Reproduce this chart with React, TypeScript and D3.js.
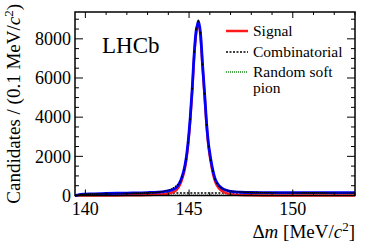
import { useRef, useEffect } from 'react'
import * as d3 from 'd3'

// binned data: 0.1 MeV bins, centres from 139.55
const binStart = 139.55
const candidates = [
  5, 30, 45, 55, 60, 70, 66, 75, 72, 80,
  78, 84, 88, 85, 92, 95, 93, 98, 100, 97,
  103, 105, 101, 108, 110, 112, 109, 115, 118, 116,
  121, 124, 122, 128, 131, 135, 140, 143, 150, 158,
  170, 185, 200, 225, 250, 290, 330, 390, 470, 560,
  700, 950, 1300, 1850, 2700, 3900, 5450, 7350, 8500, 8900,
  8300, 6700, 5200, 3600, 2500, 1800, 1250, 830, 620, 480,
  400, 330, 290, 260, 235, 220, 205, 195, 188, 180,
  175, 170, 166, 160, 158, 155, 150, 152, 148, 145,
  147, 143, 141, 144, 140, 138, 141, 137, 139, 135,
  138, 136, 134, 137, 133, 135, 132, 136, 134, 131,
  135, 133, 130, 134, 132, 129, 133, 131, 130, 132,
  128, 131, 129, 130, 127, 131, 128, 126, 130, 127,
  129, 126, 128, 125, 127,
]

// fit components
const sigX = [139.5, 140, 141, 142, 143, 143.5, 143.8, 144, 144.2, 144.4, 144.55, 144.65, 144.75, 144.85, 144.95, 145.05, 145.15, 145.25, 145.35, 145.45, 145.55, 145.65, 145.75, 145.85, 145.95, 146.05, 146.15, 146.25, 146.35, 146.5, 146.7, 147, 147.5, 148, 149, 150, 153]
const sigY = [0, 1, 4, 10, 25, 45, 70, 100, 160, 280, 520, 790, 1150, 1700, 2550, 3750, 5300, 7150, 8350, 8760, 8150, 6550, 5050, 3480, 2380, 1680, 1130, 730, 500, 300, 160, 70, 25, 10, 3, 1, 0]
const combX = [139.5, 139.57, 139.6, 139.7, 139.9, 140.2, 141, 142, 143, 144, 146, 148, 150, 153]
const combY = [0, 0, 15, 35, 55, 70, 90, 105, 115, 122, 128, 131, 133, 135]
const rspX = [139.5, 139.6, 140, 142, 144, 145.4, 147, 150, 153]
const rspY = [0, 4, 8, 10, 12, 14, 12, 10, 9]

const xTicks = [140, 145, 150]
const yTicks = [0, 2000, 4000, 6000, 8000]
const legendItems = ['Signal', 'Combinatorial', 'Random soft']

export default function App() {
  const svgRef = useRef<SVGSVGElement>(null)

  useEffect(() => {
    if (!svgRef.current) return
    const svg = d3.select(svgRef.current)
    svg.selectAll('*').remove()

    const left = 75, right = 355, top = 12, bottom = 195.5
    const font = 'Liberation Serif, Times New Roman, serif'

    const x = d3.scaleLinear().domain([139.5, 153]).range([left, right])
    const y = d3.scaleLinear().domain([0, 9370]).range([bottom, top])

    const g = svg.append('g')
    const clip = svg.append('clipPath').attr('id', 'plotclip')
    clip.append('rect').attr('x', left).attr('y', top).attr('width', right - left).attr('height', bottom - top + 2)

    // linear lookup used to sum the fit components
    const interp = (xs: number[], ys: number[], v: number) => {
      if (v <= xs[0]) return ys[0]
      for (let i = 1; i < xs.length; i++) {
        if (v <= xs[i]) {
          const t = (v - xs[i - 1]) / (xs[i] - xs[i - 1])
          return ys[i - 1] + t * (ys[i] - ys[i - 1])
        }
      }
      return ys[ys.length - 1]
    }
    const line = d3.line<[number, number]>()
      .x(d => x(d[0]))
      .y(d => y(d[1]))
      .curve(d3.curveMonotoneX)

    const sigPts = sigX.map((v, i) => [v, sigY[i]] as [number, number])
    const combPts = combX.map((v, i) => [v, combY[i]] as [number, number])
    const rspPts = rspX.map((v, i) => [v, rspY[i]] as [number, number])
    // total = sum of components on union of knots
    const allX = Array.from(new Set([...sigX, ...combX, ...rspX])).sort((a, b) => a - b)
    const totPts = allX.map(v => [v, interp(sigX, sigY, v) + interp(combX, combY, v) + interp(rspX, rspY, v)] as [number, number])

    const plot = g.append('g').attr('clip-path', 'url(#plotclip)')

    plot.append('path').attr('d', line(rspPts)).attr('fill', 'none')
      .attr('stroke', '#1a8a1a').attr('stroke-width', 1.5).attr('stroke-dasharray', '1,1')
    plot.append('path').attr('d', line(combPts)).attr('fill', 'none')
      .attr('stroke', '#000').attr('stroke-width', 1.5).attr('stroke-dasharray', '2,1.5')
    plot.append('path').attr('d', line(sigPts)).attr('fill', 'none')
      .attr('stroke', '#ff1a1a').attr('stroke-width', 2.5)

    plot.append('path').attr('d', line(totPts)).attr('fill', 'none')
      .attr('stroke', '#0000ff').attr('stroke-width', 2.8)

    // data points on top
    const pts = plot.append('g')
    candidates.forEach((c, i) => {
      const cx = x(binStart + i * 0.1)
      const err = Math.sqrt(c)
      pts.append('line').attr('x1', cx).attr('x2', cx)
        .attr('y1', y(c - err)).attr('y2', y(c + err))
        .attr('stroke', '#000').attr('stroke-width', 0.5)
      pts.append('circle').attr('cx', cx).attr('cy', y(c)).attr('r', 0.9).attr('fill', '#000')
    })

    // frame
    g.append('rect').attr('x', left).attr('y', top).attr('width', right - left).attr('height', bottom - top)
      .attr('fill', 'none').attr('stroke', '#000').attr('stroke-width', 1.5)

    // x ticks
    for (let v = 140; v <= 153; v++) {
      const major = v % 5 === 0
      const len = major ? 6 : 3
      g.append('line').attr('x1', x(v)).attr('x2', x(v)).attr('y1', bottom).attr('y2', bottom - len).attr('stroke', '#000')
      g.append('line').attr('x1', x(v)).attr('x2', x(v)).attr('y1', top).attr('y2', top + len).attr('stroke', '#000')
    }
    xTicks.forEach(v => {
      g.append('text').attr('x', x(v)).attr('y', 215).attr('text-anchor', 'middle')
        .attr('font-family', font).attr('font-size', 18).text(String(v))
    })

    // y ticks
    for (let v = 0; v <= 9370; v += 500) {
      const major = v % 2000 === 0
      const len = major ? 8 : 4
      g.append('line').attr('x1', left).attr('x2', left + len).attr('y1', y(v)).attr('y2', y(v)).attr('stroke', '#000')
      g.append('line').attr('x1', right).attr('x2', right - len).attr('y1', y(v)).attr('y2', y(v)).attr('stroke', '#000')
    }
    yTicks.forEach(v => {
      g.append('text').attr('x', 71).attr('y', y(v)).attr('dy', '0.35em').attr('text-anchor', 'end')
        .attr('font-family', font).attr('font-size', 18).text(String(v))
    })

    // axis titles
    const xt = g.append('text').attr('x', 355).attr('y', 238).attr('text-anchor', 'end')
      .attr('font-family', font).attr('font-size', 19)
    xt.append('tspan').text('Δ')
    xt.append('tspan').attr('font-style', 'italic').text('m')
    xt.append('tspan').text(' [MeV/')
    xt.append('tspan').attr('font-style', 'italic').text('c')
    xt.append('tspan').attr('font-size', 13).attr('dy', -7).text('2')
    xt.append('tspan').attr('dy', 7).text(']')

    const yt = g.append('text').attr('transform', 'translate(20,4) rotate(-90)').attr('text-anchor', 'end')
      .attr('font-family', font).attr('font-size', 19)
    yt.append('tspan').text('Candidates / (0.1 MeV/')
    yt.append('tspan').attr('font-style', 'italic').text('c')
    yt.append('tspan').attr('font-size', 13).attr('dy', -7).text('2')
    yt.append('tspan').attr('dy', 7).text(')')

    // LHCb label
    g.append('text').attr('x', 102).attr('y', 53).attr('font-family', font).attr('font-size', 23).text('LHCb')

    // legend
    const legY = [31, 52, 72]
    const styles = [
      { stroke: '#ff1a1a', dash: null, w: 2.5 },
      { stroke: '#000', dash: '2,1.5', w: 1.5 },
      { stroke: '#1a8a1a', dash: '1,1', w: 1.5 },
    ]
    legendItems.forEach((t, i) => {
      const l = g.append('line').attr('x1', 226).attr('x2', 248).attr('y1', legY[i]).attr('y2', legY[i])
        .attr('stroke', styles[i].stroke).attr('stroke-width', styles[i].w)
      if (styles[i].dash) l.attr('stroke-dasharray', styles[i].dash)
      g.append('text').attr('x', 253).attr('y', legY[i] + 5).attr('font-family', font).attr('font-size', 15.5).text(t)
    })
    g.append('text').attr('x', 253).attr('y', 93).attr('font-family', font).attr('font-size', 15.5).text('pion')
  }, [])

  return (
    <svg ref={svgRef} width={374} height={245}
      style={{ position: 'absolute', left: 0, top: 0, background: '#fff' }} />
  )
}
